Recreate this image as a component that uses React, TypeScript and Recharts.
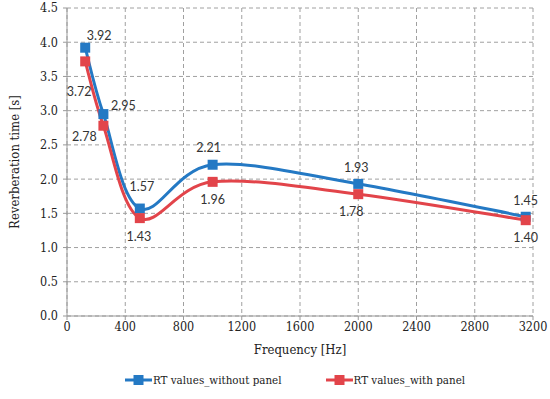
import React from 'react';
import { LineChart, Line, XAxis, YAxis, CartesianGrid, Legend } from 'recharts';

const frequencies = [125, 250, 500, 1000, 2000, 3150];
const rtWithoutPanel = [3.92, 2.95, 1.57, 2.21, 1.93, 1.45];
const rtWithPanel = [3.72, 2.78, 1.43, 1.96, 1.78, 1.40];
const xTicks = [0, 400, 800, 1200, 1600, 2000, 2400, 2800, 3200];
const yTicks = [0, 0.5, 1.0, 1.5, 2.0, 2.5, 3.0, 3.5, 4.0, 4.5];
const seriesNames = ['RT values_without panel', 'RT values_with panel'];

const BLUE = '#2479c4';
const RED = '#e2444a';

const data = frequencies.map((f, i) => ({ f, a: rtWithoutPanel[i], b: rtWithPanel[i] }));

// label offsets (dx, dy) relative to the point, per index
const blueOffsets = [[14, -8], [20, -4], [2, -18], [-4, -13], [-2, -12], [0, -12]];
const redOffsets = [[-6, 35], [-19, 15], [-1, 23], [0, 22], [-7, 22], [0, 22]];

// Excel-like smoothing (Catmull-Rom as cubic Bezier)
const smoothCurve: any = (context: any) => {
  let pts: number[][] = [];
  return {
    areaStart() {},
    areaEnd() {},
    lineStart() { pts = []; },
    point(x: number, y: number) { pts.push([+x, +y]); },
    lineEnd() {
      if (!pts.length) return;
      context.moveTo(pts[0][0], pts[0][1]);
      for (let i = 0; i < pts.length - 1; i++) {
        const p0 = pts[i - 1] || pts[i];
        const p1 = pts[i];
        const p2 = pts[i + 1];
        const p3 = pts[i + 2] || pts[i + 1];
        const c1x = p1[0] + (p2[0] - p0[0]) / 6;
        const c1y = p1[1] + (p2[1] - p0[1]) / 6;
        const c2x = p2[0] - (p3[0] - p1[0]) / 6;
        const c2y = p2[1] - (p3[1] - p1[1]) / 6;
        context.bezierCurveTo(c1x, c1y, c2x, c2y, p2[0], p2[1]);
      }
    },
  };
};

const squareDot = (color: string) => (props: any) => {
  const { cx, cy, index } = props;
  if (cx == null || cy == null) return <g key={index} />;
  return <rect key={index} x={cx - 5} y={cy - 5} width={10} height={10} fill={color} />;
};

const makeLabel = (offsets: number[][]) => (props: any) => {
  const { x, y, value, index } = props;
  const [dx, dy] = offsets[index] || [0, 0];
  return (
    <text
      key={index}
      x={x + dx}
      y={y + dy}
      textAnchor="middle"
      style={{ fontFamily: 'Lato, sans-serif', fontSize: 12.5 }}
      fill="#333"
    >
      {Number(value).toFixed(2)}
    </text>
  );
};

const serif = '"DejaVu Serif Condensed", "DejaVu Serif", serif';
const serifStyle = { fontFamily: serif, fontStretch: 'condensed' as const };

const renderLegend = () => {
  const items = [
    { name: seriesNames[0], color: BLUE },
    { name: seriesNames[1], color: RED },
  ];
  return (
    <div style={{ display: 'flex', justifyContent: 'flex-start', gap: 44, paddingTop: 7, paddingLeft: 125, fontSize: 11.5, color: '#222', ...serifStyle }}>
      {items.map((it) => (
        <div key={it.name} style={{ display: 'flex', alignItems: 'center' }}>
          <svg width={27} height={12} style={{ marginRight: 1 }}>
            <line x1={0} y1={6} x2={27} y2={6} stroke={it.color} strokeWidth={3} />
            <rect x={8.5} y={1} width={10} height={10} fill={it.color} />
          </svg>
          <span>{it.name}</span>
        </div>
      ))}
    </div>
  );
};

export default function App() {
  return (
    <div style={{ position: 'absolute', left: 0, top: 0, width: 550, height: 399, background: '#fff', ...serifStyle }}>
      <LineChart width={550} height={399} data={data} margin={{ top: 8, right: 17, bottom: 0, left: 0 }} style={serifStyle}>
        <CartesianGrid stroke="#a0a0a0" strokeDasharray="4 3" vertical horizontal />
        <XAxis
          dataKey="f"
          type="number"
          domain={[0, 3200]}
          ticks={xTicks}
          interval={0}
          height={50}
          stroke="#999"
          tickLine={{ stroke: '#999' }}
          tickSize={4}
          tick={{ fill: '#222', fontSize: 12.5, style: serifStyle }}
          label={{ value: 'Frequency [Hz]', position: 'insideBottom', offset: 12, fill: '#222', fontSize: 13, style: serifStyle }}
        />
        <YAxis
          type="number"
          domain={[0, 4.5]}
          ticks={yTicks}
          interval={0}
          width={67}
          stroke="#999"
          tickSize={4}
          tickFormatter={(v: number) => v.toFixed(1)}
          tick={{ fill: '#222', fontSize: 12.5, dx: -3, style: serifStyle }}
          label={(p: any) => {
            const vb = p.viewBox || {};
            const cy = (vb.y || 0) + (vb.height || 0) / 2;
            return (
              <text x={14} y={cy} transform={`rotate(-90, 14, ${cy})`} textAnchor="middle" dominantBaseline="central" fill="#222" fontSize={13} style={serifStyle}>
                Reverberation time [s]
              </text>
            );
          }}
        />
        <Legend verticalAlign="bottom" height={33} content={renderLegend} />
        <Line
          dataKey="a"
          name={seriesNames[0]}
          type={smoothCurve}
          stroke={BLUE}
          strokeWidth={3}
          dot={squareDot(BLUE)}
          activeDot={false}
          isAnimationActive={false}
          label={makeLabel(blueOffsets)}
        />
        <Line
          dataKey="b"
          name={seriesNames[1]}
          type={smoothCurve}
          stroke={RED}
          strokeWidth={3}
          dot={squareDot(RED)}
          activeDot={false}
          isAnimationActive={false}
          label={makeLabel(redOffsets)}
        />
      </LineChart>
    </div>
  );
}
